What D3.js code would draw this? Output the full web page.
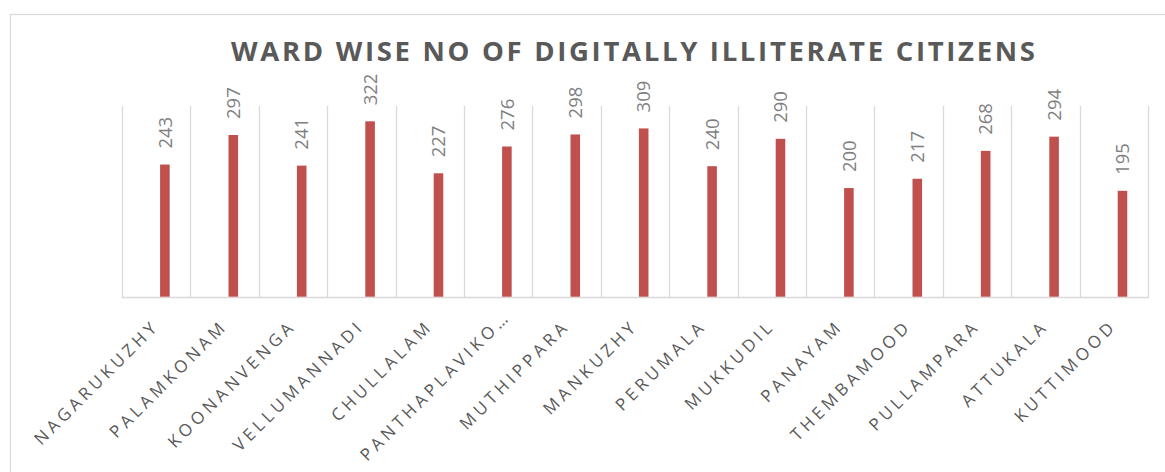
<!DOCTYPE html>
<html>
<head>
<meta charset="utf-8">
<script src="https://cdn.jsdelivr.net/npm/d3@7/dist/d3.min.js"></script>
<style>
  html, body { margin: 0; padding: 0; background: #ffffff; }
  svg { display: block; }
</style>
</head>
<body>
<svg id="chart" width="1165" height="472"></svg>
<script>
const title = "WARD WISE NO OF DIGITALLY ILLITERATE CITIZENS";
const categories = ["NAGARUKUZHY", "PALAMKONAM", "KOONANVENGA", "VELLUMANNADI", "CHULLALAM",
  "PANTHAPLAVIKO…", "MUTHIPPARA", "MANKUZHY", "PERUMALA", "MUKKUDIL", "PANAYAM",
  "THEMBAMOOD", "PULLAMPARA", "ATTUKALA", "KUTTIMOOD"];
const values = [243, 297, 241, 322, 227, 276, 298, 309, 240, 290, 200, 217, 268, 294, 195];
const yDomain = [0, 350];

const svg = d3.select("#chart");
const W = 1165, H = 472;
const plot = { left: 122, right: 1148, top: 106, bottom: 297.5 };

// outer chart border
svg.append("rect")
  .attr("x", 10.5).attr("y", 14.5)
  .attr("width", W).attr("height", H)
  .attr("fill", "#ffffff").attr("stroke", "#d9d9d9").attr("stroke-width", 1.2);

const x = d3.scaleBand().domain(categories).range([plot.left, plot.right]).padding(0);
const y = d3.scaleLinear().domain(yDomain).range([plot.bottom, plot.top]);
const bw = x.bandwidth();

// vertical category separators
const bounds = categories.map(c => x(c)).concat([plot.right]);
svg.append("g").selectAll("line").data(bounds).join("line")
  .attr("x1", d => Math.round(d) + 0.5).attr("x2", d => Math.round(d) + 0.5)
  .attr("y1", plot.top).attr("y2", plot.bottom)
  .attr("stroke", "#d9d9d9").attr("stroke-width", 1.3);

// baseline axis
svg.append("line")
  .attr("x1", plot.left).attr("x2", plot.right + 1)
  .attr("y1", plot.bottom).attr("y2", plot.bottom)
  .attr("stroke", "#d9d9d9").attr("stroke-width", 1.6);

// bars
const barW = bw * 0.14;
const barX = c => x(c) + bw * 0.557;
svg.append("g").selectAll("rect").data(values).join("rect")
  .attr("x", (d, i) => barX(categories[i]))
  .attr("width", barW)
  .attr("y", d => y(d))
  .attr("height", d => y(0) - y(d) - 0.8)
  .attr("fill", "#c0504d");

// value labels
svg.append("g").selectAll("text").data(values).join("text")
  .attr("transform", (d, i) => `translate(${barX(categories[i]) + barW / 2},${y(d) - 16}) rotate(-90)`)
  .attr("dy", "0.36em")
  .attr("text-anchor", "start")
  .attr("font-family", "'Open Sans', sans-serif")
  .attr("font-size", 18.5)
  .attr("fill", "#7f7f7f")
  .text(d => d);

// category labels
const ls = 4;
const labelFont = 17;
// width of a trailing ellipsis (overflows past the label box, like the original)
const probe = svg.append("text")
  .attr("font-family", "'Open Sans', sans-serif")
  .attr("font-size", labelFont).attr("letter-spacing", ls).text("…");
const ellW = probe.node().getComputedTextLength();
probe.remove();
const k = Math.SQRT1_2;
svg.append("g").selectAll("text").data(categories).join("text")
  .attr("transform", c => {
    const extra = c.endsWith("…") ? ellW - ls : 0;
    return `translate(${x(c) + bw / 2 + 4 + extra * k},${327 - extra * k}) rotate(-45)`;
  })
  .attr("text-anchor", "end")
  .attr("font-family", "'Open Sans', sans-serif")
  .attr("font-size", labelFont)
  .attr("letter-spacing", ls)
  .attr("fill", "#595959")
  .text(c => c);

// title
svg.append("text")
  .attr("x", 231).attr("y", 61)
  .attr("textLength", 804).attr("lengthAdjust", "spacing")
  .attr("font-family", "'Open Sans', sans-serif")
  .attr("font-weight", "bold")
  .attr("font-size", 27.5)
  .attr("fill", "#595959")
  .text(title);
</script>
</body>
</html>
